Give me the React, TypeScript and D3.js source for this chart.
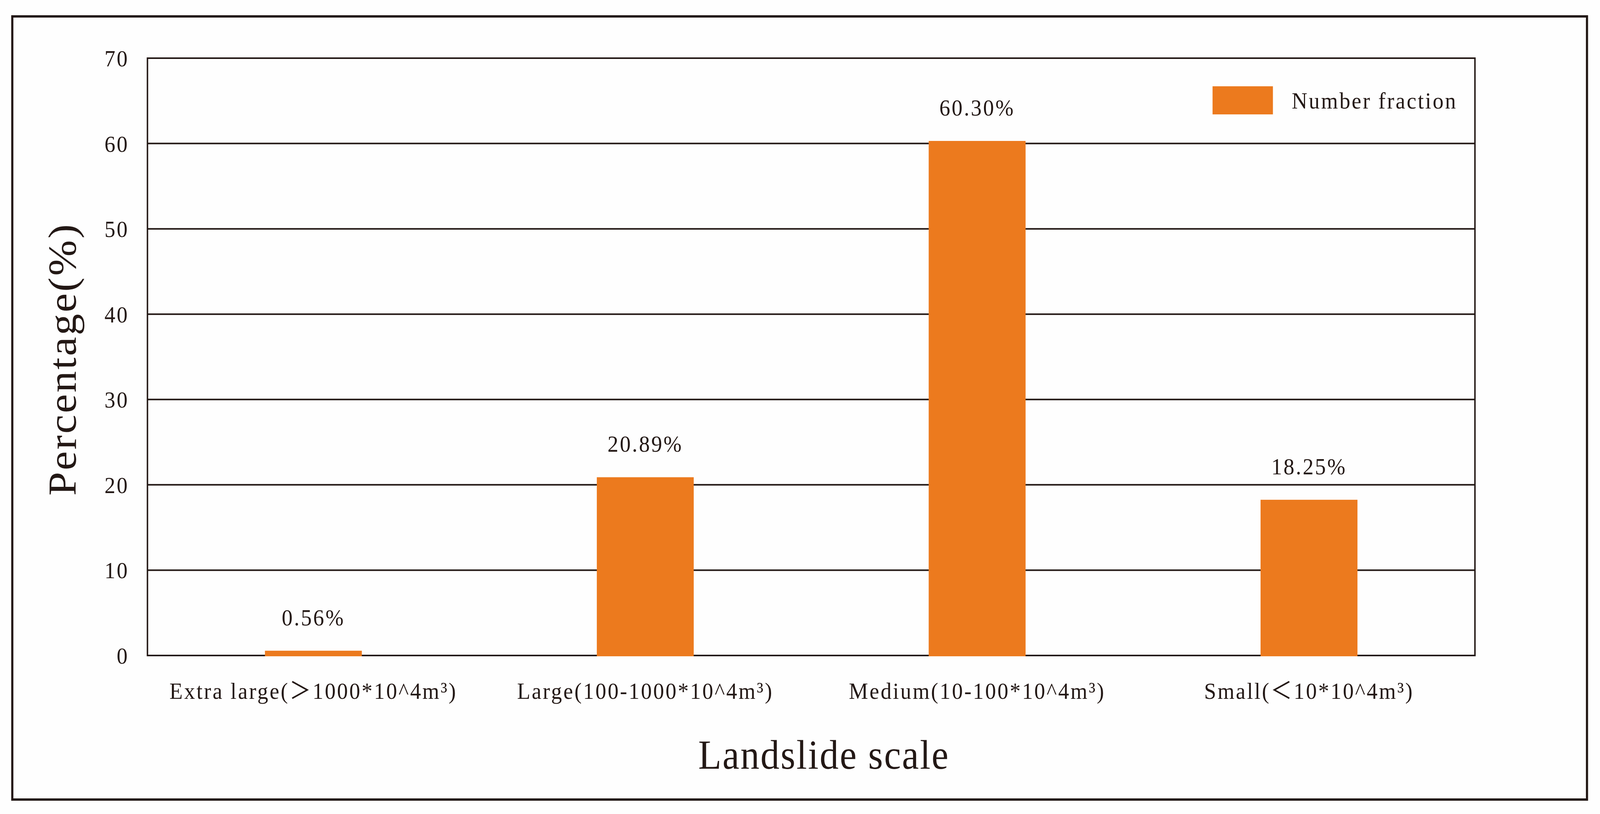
import React from "react";
import * as d3 from "d3";

const categories = [
    "Extra large(＞1000*10^4m³)",
    "Large(100-1000*10^4m³)",
    "Medium(10-100*10^4m³)",
    "Small(＜10*10^4m³)",
];
const numberFraction = [ 0.56, 20.89, 60.30, 18.25 ];
const valueLabels = [ "0.56%", "20.89%", "60.30%", "18.25%" ];
const yTicks = [ 0, 10, 20, 30, 40, 50, 60, 70 ];
const seriesName = "Number fraction";
const xTitle = "Landslide scale";
const yTitle = "Percentage(%)";

const W = 4427;
const H = 2085;
const INK = "#231815";
const BAR = "#EC7A1E";
const FONT = "'Liberation Serif', 'Times New Roman', 'Noto Sans CJK SC', serif";

export default function App ()
{
    const plot = { left: 408, right: 4081, top: 149, bottom: 1679 };

    const x = d3.scaleBand<string>()
        .domain( categories )
        .range( [ plot.left, plot.right ] )
        .paddingInner( 0.708 )
        .paddingOuter( 0.354 );

    const y = d3.scaleLinear()
        .domain( [ 0, 70 ] )
        .range( [ plot.bottom, plot.top ] );

    const cx = ( c: string ) => ( x( c ) ?? 0 ) + x.bandwidth() / 2;
    const midX = ( plot.left + plot.right ) / 2;
    const midY = ( plot.top + plot.bottom ) / 2;

    return (
        <svg viewBox={ `0 0 ${ W } ${ H }` } preserveAspectRatio="none"
            style={ { position: "absolute", left: 0, top: 0, width: "100vw", height: "100vh", display: "block" } }>
            <rect x={ 0 } y={ 0 } width={ W } height={ H } fill="#fefefe" />

            {/* outer frame */}
            <rect x={ 34 } y={ 42 } width={ 4357 } height={ 2006 } fill="none" stroke={ INK } strokeWidth={ 6 } />

            {/* grid lines */}
            { yTicks.map( ( t ) => (
                <line key={ t } x1={ plot.left } x2={ plot.right } y1={ y( t ) } y2={ y( t ) }
                    stroke={ INK } strokeWidth={ 4 } />
            ) ) }
            <line x1={ plot.left } x2={ plot.left } y1={ y( 70 ) - 2 } y2={ y( 0 ) + 2 } stroke={ INK } strokeWidth={ 4 } />
            <line x1={ plot.right } x2={ plot.right } y1={ y( 70 ) - 2 } y2={ y( 0 ) + 2 } stroke={ INK } strokeWidth={ 4 } />

            {/* y tick labels */}
            { yTicks.map( ( t ) => (
                <text key={ t } x={ 357 } y={ y( t ) } dy="0.35em" textAnchor="end"
                    fontFamily={ FONT } fontSize={ 60 } letterSpacing={ 4 } fill={ INK }>{ t }</text>
            ) ) }

            {/* bars */}
            { categories.map( ( c, i ) => (
                <rect key={ c } x={ x( c ) } y={ y( numberFraction[ i ] ) } width={ x.bandwidth() }
                    height={ y( 0 ) - y( numberFraction[ i ] ) + 2 } fill={ BAR } />
            ) ) }

            {/* value labels */}
            { categories.map( ( c, i ) => (
                <text key={ c } x={ cx( c ) } y={ y( numberFraction[ i ] ) - 65 } textAnchor="middle"
                    fontFamily={ FONT } fontSize={ 60 } letterSpacing={ 4 } fill={ INK }>{ valueLabels[ i ] }</text>
            ) ) }

            {/* category labels */}
            { categories.map( ( c ) => (
                <text key={ c } x={ cx( c ) } y={ 1790 } textAnchor="middle"
                    fontFamily={ FONT } fontSize={ 60 } letterSpacing={ 4 } fill={ INK }>{ c }</text>
            ) ) }

            {/* axis titles */}
            <text x={ midX + 35 } y={ 1969 } textAnchor="middle" fontFamily={ FONT } fontSize={ 105 }
                letterSpacing={ 3 } fill={ INK }>{ xTitle }</text>
            <text transform={ `translate(210,${ midY + 6 }) rotate(-90)` } textAnchor="middle" fontFamily={ FONT }
                fontSize={ 110 } letterSpacing={ 4 } fill={ INK }>{ yTitle }</text>

            {/* legend */}
            <rect x={ 3355 } y={ 221 } width={ 167 } height={ 72 } fill={ BAR } />
            <text x={ 3574 } y={ 278 } fontFamily={ FONT } fontSize={ 60 } letterSpacing={ 4 } fill={ INK }>{ seriesName }</text>
        </svg>
    );
}
